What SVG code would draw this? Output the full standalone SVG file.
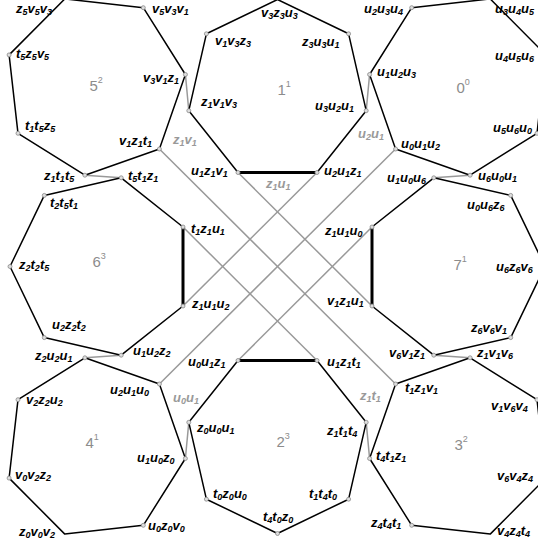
<svg xmlns="http://www.w3.org/2000/svg" width="538" height="543" viewBox="0 0 538 543">
<style>
.p{fill:none;stroke:#000;stroke-width:1.5;stroke-linejoin:round}
.tk{stroke:#000;stroke-width:3}
.cn{stroke:#999;stroke-width:1.5;fill:none}
.d{fill:#ddd;stroke:#888;stroke-width:0.8}
.v{font-family:"Liberation Sans",Arial,sans-serif;font-size:13px;font-weight:bold;font-style:italic;fill:#000}
.e{font-family:"Liberation Sans",Arial,sans-serif;font-size:13px;font-weight:bold;font-style:italic;fill:#999}
.c{font-family:"Liberation Sans",Arial,sans-serif;font-size:15px;fill:#8c8c8c}
.s{font-size:9px}
.sp{font-size:9px}
</style>
<rect width="538" height="543" fill="#fff"/>
<g id="connectors">
<line class="cn" x1="185.4" y1="74.5" x2="188.8" y2="110.7"/>
<line class="cn" x1="369.6" y1="74.5" x2="366.2" y2="110.7"/>
<line class="cn" x1="84.9" y1="175.2" x2="121.2" y2="177.8"/>
<line class="cn" x1="470.1" y1="175.2" x2="433.8" y2="177.8"/>
<line class="cn" x1="84.9" y1="357.8" x2="121.2" y2="355.2"/>
<line class="cn" x1="470.1" y1="357.8" x2="433.8" y2="355.2"/>
<line class="cn" x1="185.4" y1="458.5" x2="188.8" y2="422.3"/>
<line class="cn" x1="369.6" y1="458.5" x2="366.2" y2="422.3"/>
<line class="cn" x1="159.4" y1="149" x2="395.6" y2="384"/>
<line class="cn" x1="395.6" y1="149" x2="159.4" y2="384"/>
<line class="cn" x1="238" y1="172.5" x2="372" y2="306"/>
<line class="cn" x1="317" y1="172.5" x2="183" y2="306"/>
<line class="cn" x1="183" y1="227" x2="317" y2="360.5"/>
<line class="cn" x1="372" y1="227" x2="238" y2="360.5"/>
<text class="e" x="173" y="144">z<tspan class="s" dy="2">1</tspan><tspan dy="-2">v</tspan><tspan class="s" dy="2">1</tspan></text>
<text class="e" x="266" y="188">z<tspan class="s" dy="2">1</tspan><tspan dy="-2">u</tspan><tspan class="s" dy="2">1</tspan></text>
<text class="e" x="358" y="138">u<tspan class="s" dy="2">2</tspan><tspan dy="-2">u</tspan><tspan class="s" dy="2">1</tspan></text>
<text class="e" x="173" y="402">u<tspan class="s" dy="2">0</tspan><tspan dy="-2">u</tspan><tspan class="s" dy="2">1</tspan></text>
<text class="e" x="360" y="400">z<tspan class="s" dy="2">1</tspan><tspan dy="-2">t</tspan><tspan class="s" dy="2">1</tspan></text>
</g>
<g id="n5">
<polygon class="p" points="185.4,74.5 159.4,149 84.9,175.2 18,133.3 9.1,54.9 64.8,-1.1 143.3,7.7"/>
<text class="c" x="89.5" y="91">5<tspan class="sp" dy="-8">2</tspan></text>
<text class="v" x="16" y="13">z<tspan class="s" dy="2">5</tspan><tspan dy="-2">v</tspan><tspan class="s" dy="2">5</tspan><tspan dy="-2">v</tspan><tspan class="s" dy="2">3</tspan></text>
<text class="v" x="152" y="13">v<tspan class="s" dy="2">5</tspan><tspan dy="-2">v</tspan><tspan class="s" dy="2">3</tspan><tspan dy="-2">v</tspan><tspan class="s" dy="2">1</tspan></text>
<text class="v" x="16" y="58">t<tspan class="s" dy="2">5</tspan><tspan dy="-2">z</tspan><tspan class="s" dy="2">5</tspan><tspan dy="-2">v</tspan><tspan class="s" dy="2">5</tspan></text>
<text class="v" x="143" y="82">v<tspan class="s" dy="2">3</tspan><tspan dy="-2">v</tspan><tspan class="s" dy="2">1</tspan><tspan dy="-2">z</tspan><tspan class="s" dy="2">1</tspan></text>
<text class="v" x="25" y="130">t<tspan class="s" dy="2">1</tspan><tspan dy="-2">t</tspan><tspan class="s" dy="2">5</tspan><tspan dy="-2">z</tspan><tspan class="s" dy="2">5</tspan></text>
<text class="v" x="119" y="145">v<tspan class="s" dy="2">1</tspan><tspan dy="-2">z</tspan><tspan class="s" dy="2">1</tspan><tspan dy="-2">t</tspan><tspan class="s" dy="2">1</tspan></text>
<text class="v" x="44" y="180">z<tspan class="s" dy="2">1</tspan><tspan dy="-2">t</tspan><tspan class="s" dy="2">1</tspan><tspan dy="-2">t</tspan><tspan class="s" dy="2">5</tspan></text>
</g>
<g id="n1">
<polygon class="p" points="277.5,-0.5 348.6,33.8 366.2,110.7 317,172.5 238,172.5 188.8,110.7 206.4,33.8"/>
<line class="tk" x1="238" y1="172.5" x2="317" y2="172.5"/>
<text class="c" x="277.4" y="95">1<tspan class="sp" dy="-8">1</tspan></text>
<text class="v" x="261" y="17">v<tspan class="s" dy="2">3</tspan><tspan dy="-2">z</tspan><tspan class="s" dy="2">3</tspan><tspan dy="-2">u</tspan><tspan class="s" dy="2">3</tspan></text>
<text class="v" x="215" y="45">v<tspan class="s" dy="2">1</tspan><tspan dy="-2">v</tspan><tspan class="s" dy="2">3</tspan><tspan dy="-2">z</tspan><tspan class="s" dy="2">3</tspan></text>
<text class="v" x="302" y="46">z<tspan class="s" dy="2">3</tspan><tspan dy="-2">u</tspan><tspan class="s" dy="2">3</tspan><tspan dy="-2">u</tspan><tspan class="s" dy="2">1</tspan></text>
<text class="v" x="201" y="106">z<tspan class="s" dy="2">1</tspan><tspan dy="-2">v</tspan><tspan class="s" dy="2">1</tspan><tspan dy="-2">v</tspan><tspan class="s" dy="2">3</tspan></text>
<text class="v" x="315" y="110">u<tspan class="s" dy="2">3</tspan><tspan dy="-2">u</tspan><tspan class="s" dy="2">2</tspan><tspan dy="-2">u</tspan><tspan class="s" dy="2">1</tspan></text>
<text class="v" x="191" y="175">u<tspan class="s" dy="2">1</tspan><tspan dy="-2">z</tspan><tspan class="s" dy="2">1</tspan><tspan dy="-2">v</tspan><tspan class="s" dy="2">1</tspan></text>
<text class="v" x="324" y="175">u<tspan class="s" dy="2">2</tspan><tspan dy="-2">u</tspan><tspan class="s" dy="2">1</tspan><tspan dy="-2">z</tspan><tspan class="s" dy="2">1</tspan></text>
</g>
<g id="n0">
<polygon class="p" points="369.6,74.5 395.6,149 470.1,175.2 537,133.3 545.9,54.9 490.2,-1.1 411.7,7.7"/>
<text class="c" x="456.5" y="93">0<tspan class="sp" dy="-8">0</tspan></text>
<text class="v" x="364" y="13">u<tspan class="s" dy="2">2</tspan><tspan dy="-2">u</tspan><tspan class="s" dy="2">3</tspan><tspan dy="-2">u</tspan><tspan class="s" dy="2">4</tspan></text>
<text class="v" x="495" y="13">u<tspan class="s" dy="2">3</tspan><tspan dy="-2">u</tspan><tspan class="s" dy="2">4</tspan><tspan dy="-2">u</tspan><tspan class="s" dy="2">5</tspan></text>
<text class="v" x="495" y="60">u<tspan class="s" dy="2">4</tspan><tspan dy="-2">u</tspan><tspan class="s" dy="2">5</tspan><tspan dy="-2">u</tspan><tspan class="s" dy="2">6</tspan></text>
<text class="v" x="377" y="76">u<tspan class="s" dy="2">1</tspan><tspan dy="-2">u</tspan><tspan class="s" dy="2">2</tspan><tspan dy="-2">u</tspan><tspan class="s" dy="2">3</tspan></text>
<text class="v" x="493" y="132">u<tspan class="s" dy="2">5</tspan><tspan dy="-2">u</tspan><tspan class="s" dy="2">6</tspan><tspan dy="-2">u</tspan><tspan class="s" dy="2">0</tspan></text>
<text class="v" x="401" y="148">u<tspan class="s" dy="2">0</tspan><tspan dy="-2">u</tspan><tspan class="s" dy="2">1</tspan><tspan dy="-2">u</tspan><tspan class="s" dy="2">2</tspan></text>
<text class="v" x="478" y="180">u<tspan class="s" dy="2">6</tspan><tspan dy="-2">u</tspan><tspan class="s" dy="2">0</tspan><tspan dy="-2">u</tspan><tspan class="s" dy="2">1</tspan></text>
</g>
<g id="n6">
<polygon class="p" points="183,227 183,306 121.2,355.2 44.3,337.6 10,266.5 44.3,195.4 121.2,177.8"/>
<line class="tk" x1="183" y1="227" x2="183" y2="306"/>
<text class="c" x="92.5" y="267">6<tspan class="sp" dy="-8">3</tspan></text>
<text class="v" x="128" y="180">t<tspan class="s" dy="2">5</tspan><tspan dy="-2">t</tspan><tspan class="s" dy="2">1</tspan><tspan dy="-2">z</tspan><tspan class="s" dy="2">1</tspan></text>
<text class="v" x="50" y="207">t<tspan class="s" dy="2">2</tspan><tspan dy="-2">t</tspan><tspan class="s" dy="2">5</tspan><tspan dy="-2">t</tspan><tspan class="s" dy="2">1</tspan></text>
<text class="v" x="19" y="269">z<tspan class="s" dy="2">2</tspan><tspan dy="-2">t</tspan><tspan class="s" dy="2">2</tspan><tspan dy="-2">t</tspan><tspan class="s" dy="2">5</tspan></text>
<text class="v" x="52" y="329">u<tspan class="s" dy="2">2</tspan><tspan dy="-2">z</tspan><tspan class="s" dy="2">2</tspan><tspan dy="-2">t</tspan><tspan class="s" dy="2">2</tspan></text>
<text class="v" x="133" y="355">u<tspan class="s" dy="2">1</tspan><tspan dy="-2">u</tspan><tspan class="s" dy="2">2</tspan><tspan dy="-2">z</tspan><tspan class="s" dy="2">2</tspan></text>
<text class="v" x="191" y="233">t<tspan class="s" dy="2">1</tspan><tspan dy="-2">z</tspan><tspan class="s" dy="2">1</tspan><tspan dy="-2">u</tspan><tspan class="s" dy="2">1</tspan></text>
<text class="v" x="192" y="308">z<tspan class="s" dy="2">1</tspan><tspan dy="-2">u</tspan><tspan class="s" dy="2">1</tspan><tspan dy="-2">u</tspan><tspan class="s" dy="2">2</tspan></text>
</g>
<g id="n7">
<polygon class="p" points="372,227 372,306 433.8,355.2 510.7,337.6 545,266.5 510.7,195.4 433.8,177.8"/>
<line class="tk" x1="372" y1="227" x2="372" y2="306"/>
<text class="c" x="453.5" y="270">7<tspan class="sp" dy="-8">1</tspan></text>
<text class="v" x="387" y="182">u<tspan class="s" dy="2">1</tspan><tspan dy="-2">u</tspan><tspan class="s" dy="2">0</tspan><tspan dy="-2">u</tspan><tspan class="s" dy="2">6</tspan></text>
<text class="v" x="467" y="209">u<tspan class="s" dy="2">0</tspan><tspan dy="-2">u</tspan><tspan class="s" dy="2">6</tspan><tspan dy="-2">z</tspan><tspan class="s" dy="2">6</tspan></text>
<text class="v" x="496" y="271">u<tspan class="s" dy="2">6</tspan><tspan dy="-2">z</tspan><tspan class="s" dy="2">6</tspan><tspan dy="-2">v</tspan><tspan class="s" dy="2">6</tspan></text>
<text class="v" x="471" y="332">z<tspan class="s" dy="2">6</tspan><tspan dy="-2">v</tspan><tspan class="s" dy="2">6</tspan><tspan dy="-2">v</tspan><tspan class="s" dy="2">1</tspan></text>
<text class="v" x="389" y="357">v<tspan class="s" dy="2">6</tspan><tspan dy="-2">v</tspan><tspan class="s" dy="2">1</tspan><tspan dy="-2">z</tspan><tspan class="s" dy="2">1</tspan></text>
<text class="v" x="325" y="235">z<tspan class="s" dy="2">1</tspan><tspan dy="-2">u</tspan><tspan class="s" dy="2">1</tspan><tspan dy="-2">u</tspan><tspan class="s" dy="2">0</tspan></text>
<text class="v" x="327" y="305">v<tspan class="s" dy="2">1</tspan><tspan dy="-2">z</tspan><tspan class="s" dy="2">1</tspan><tspan dy="-2">u</tspan><tspan class="s" dy="2">1</tspan></text>
</g>
<g id="n4">
<polygon class="p" points="185.4,458.5 159.4,384 84.9,357.8 18,399.7 9.1,478.1 64.8,534.1 143.3,525.3"/>
<text class="c" x="85.5" y="448">4<tspan class="sp" dy="-8">1</tspan></text>
<text class="v" x="35" y="360">z<tspan class="s" dy="2">2</tspan><tspan dy="-2">u</tspan><tspan class="s" dy="2">2</tspan><tspan dy="-2">u</tspan><tspan class="s" dy="2">1</tspan></text>
<text class="v" x="110" y="394">u<tspan class="s" dy="2">2</tspan><tspan dy="-2">u</tspan><tspan class="s" dy="2">1</tspan><tspan dy="-2">u</tspan><tspan class="s" dy="2">0</tspan></text>
<text class="v" x="26" y="404">v<tspan class="s" dy="2">2</tspan><tspan dy="-2">z</tspan><tspan class="s" dy="2">2</tspan><tspan dy="-2">u</tspan><tspan class="s" dy="2">2</tspan></text>
<text class="v" x="137" y="462">u<tspan class="s" dy="2">1</tspan><tspan dy="-2">u</tspan><tspan class="s" dy="2">0</tspan><tspan dy="-2">z</tspan><tspan class="s" dy="2">0</tspan></text>
<text class="v" x="15" y="479">v<tspan class="s" dy="2">0</tspan><tspan dy="-2">v</tspan><tspan class="s" dy="2">2</tspan><tspan dy="-2">z</tspan><tspan class="s" dy="2">2</tspan></text>
<text class="v" x="19" y="536">z<tspan class="s" dy="2">0</tspan><tspan dy="-2">v</tspan><tspan class="s" dy="2">0</tspan><tspan dy="-2">v</tspan><tspan class="s" dy="2">2</tspan></text>
<text class="v" x="148" y="530">u<tspan class="s" dy="2">0</tspan><tspan dy="-2">z</tspan><tspan class="s" dy="2">0</tspan><tspan dy="-2">v</tspan><tspan class="s" dy="2">0</tspan></text>
</g>
<g id="n2">
<polygon class="p" points="277.5,533.5 348.6,499.2 366.2,422.3 317,360.5 238,360.5 188.8,422.3 206.4,499.2"/>
<line class="tk" x1="238" y1="360.5" x2="317" y2="360.5"/>
<text class="c" x="276.5" y="447">2<tspan class="sp" dy="-8">3</tspan></text>
<text class="v" x="188" y="366">u<tspan class="s" dy="2">0</tspan><tspan dy="-2">u</tspan><tspan class="s" dy="2">1</tspan><tspan dy="-2">z</tspan><tspan class="s" dy="2">1</tspan></text>
<text class="v" x="327" y="366">u<tspan class="s" dy="2">1</tspan><tspan dy="-2">z</tspan><tspan class="s" dy="2">1</tspan><tspan dy="-2">t</tspan><tspan class="s" dy="2">1</tspan></text>
<text class="v" x="197" y="432">z<tspan class="s" dy="2">0</tspan><tspan dy="-2">u</tspan><tspan class="s" dy="2">0</tspan><tspan dy="-2">u</tspan><tspan class="s" dy="2">1</tspan></text>
<text class="v" x="327" y="435">z<tspan class="s" dy="2">1</tspan><tspan dy="-2">t</tspan><tspan class="s" dy="2">1</tspan><tspan dy="-2">t</tspan><tspan class="s" dy="2">4</tspan></text>
<text class="v" x="213" y="498">t<tspan class="s" dy="2">0</tspan><tspan dy="-2">z</tspan><tspan class="s" dy="2">0</tspan><tspan dy="-2">u</tspan><tspan class="s" dy="2">0</tspan></text>
<text class="v" x="309" y="498">t<tspan class="s" dy="2">1</tspan><tspan dy="-2">t</tspan><tspan class="s" dy="2">4</tspan><tspan dy="-2">t</tspan><tspan class="s" dy="2">0</tspan></text>
<text class="v" x="263" y="521">t<tspan class="s" dy="2">4</tspan><tspan dy="-2">t</tspan><tspan class="s" dy="2">0</tspan><tspan dy="-2">z</tspan><tspan class="s" dy="2">0</tspan></text>
</g>
<g id="n3">
<polygon class="p" points="369.6,458.5 395.6,384 470.1,357.8 537,399.7 545.9,478.1 490.2,534.1 411.7,525.3"/>
<text class="c" x="454.5" y="450">3<tspan class="sp" dy="-8">2</tspan></text>
<text class="v" x="477" y="357">z<tspan class="s" dy="2">1</tspan><tspan dy="-2">v</tspan><tspan class="s" dy="2">1</tspan><tspan dy="-2">v</tspan><tspan class="s" dy="2">6</tspan></text>
<text class="v" x="405" y="392">t<tspan class="s" dy="2">1</tspan><tspan dy="-2">z</tspan><tspan class="s" dy="2">1</tspan><tspan dy="-2">v</tspan><tspan class="s" dy="2">1</tspan></text>
<text class="v" x="491" y="410">v<tspan class="s" dy="2">1</tspan><tspan dy="-2">v</tspan><tspan class="s" dy="2">6</tspan><tspan dy="-2">v</tspan><tspan class="s" dy="2">4</tspan></text>
<text class="v" x="376" y="460">t<tspan class="s" dy="2">4</tspan><tspan dy="-2">t</tspan><tspan class="s" dy="2">1</tspan><tspan dy="-2">z</tspan><tspan class="s" dy="2">1</tspan></text>
<text class="v" x="497" y="480">v<tspan class="s" dy="2">6</tspan><tspan dy="-2">v</tspan><tspan class="s" dy="2">4</tspan><tspan dy="-2">z</tspan><tspan class="s" dy="2">4</tspan></text>
<text class="v" x="371" y="527">z<tspan class="s" dy="2">4</tspan><tspan dy="-2">t</tspan><tspan class="s" dy="2">4</tspan><tspan dy="-2">t</tspan><tspan class="s" dy="2">1</tspan></text>
<text class="v" x="497" y="535">v<tspan class="s" dy="2">4</tspan><tspan dy="-2">z</tspan><tspan class="s" dy="2">4</tspan><tspan dy="-2">t</tspan><tspan class="s" dy="2">4</tspan></text>
</g>
<g id="dots">
<circle class="d" r="2" cx="185.4" cy="74.5"/><circle class="d" r="2" cx="159.4" cy="149"/><circle class="d" r="2" cx="84.9" cy="175.2"/><circle class="d" r="2" cx="18" cy="133.3"/><circle class="d" r="2" cx="9.1" cy="54.9"/><circle class="d" r="2" cx="143.3" cy="7.7"/>
<circle class="d" r="2" cx="369.6" cy="74.5"/><circle class="d" r="2" cx="395.6" cy="149"/><circle class="d" r="2" cx="470.1" cy="175.2"/><circle class="d" r="2" cx="537" cy="133.3"/><circle class="d" r="2" cx="411.7" cy="7.7"/>
<circle class="d" r="2" cx="185.4" cy="458.5"/><circle class="d" r="2" cx="159.4" cy="384"/><circle class="d" r="2" cx="84.9" cy="357.8"/><circle class="d" r="2" cx="18" cy="399.7"/><circle class="d" r="2" cx="9.1" cy="478.1"/><circle class="d" r="2" cx="143.3" cy="525.3"/>
<circle class="d" r="2" cx="369.6" cy="458.5"/><circle class="d" r="2" cx="395.6" cy="384"/><circle class="d" r="2" cx="470.1" cy="357.8"/><circle class="d" r="2" cx="537" cy="399.7"/><circle class="d" r="2" cx="411.7" cy="525.3"/>
<circle class="d" r="2" cx="348.6" cy="33.8"/><circle class="d" r="2" cx="366.2" cy="110.7"/><circle class="d" r="2" cx="317" cy="172.5"/><circle class="d" r="2" cx="238" cy="172.5"/><circle class="d" r="2" cx="188.8" cy="110.7"/><circle class="d" r="2" cx="206.4" cy="33.8"/>
<circle class="d" r="2" cx="277.5" cy="533.5"/><circle class="d" r="2" cx="348.6" cy="499.2"/><circle class="d" r="2" cx="366.2" cy="422.3"/><circle class="d" r="2" cx="317" cy="360.5"/><circle class="d" r="2" cx="238" cy="360.5"/><circle class="d" r="2" cx="188.8" cy="422.3"/><circle class="d" r="2" cx="206.4" cy="499.2"/>
<circle class="d" r="2" cx="183" cy="227"/><circle class="d" r="2" cx="183" cy="306"/><circle class="d" r="2" cx="121.2" cy="355.2"/><circle class="d" r="2" cx="44.3" cy="337.6"/><circle class="d" r="2" cx="10" cy="266.5"/><circle class="d" r="2" cx="44.3" cy="195.4"/><circle class="d" r="2" cx="121.2" cy="177.8"/>
<circle class="d" r="2" cx="372" cy="227"/><circle class="d" r="2" cx="372" cy="306"/><circle class="d" r="2" cx="433.8" cy="355.2"/><circle class="d" r="2" cx="510.7" cy="337.6"/><circle class="d" r="2" cx="510.7" cy="195.4"/><circle class="d" r="2" cx="433.8" cy="177.8"/>
</g>
</svg>
